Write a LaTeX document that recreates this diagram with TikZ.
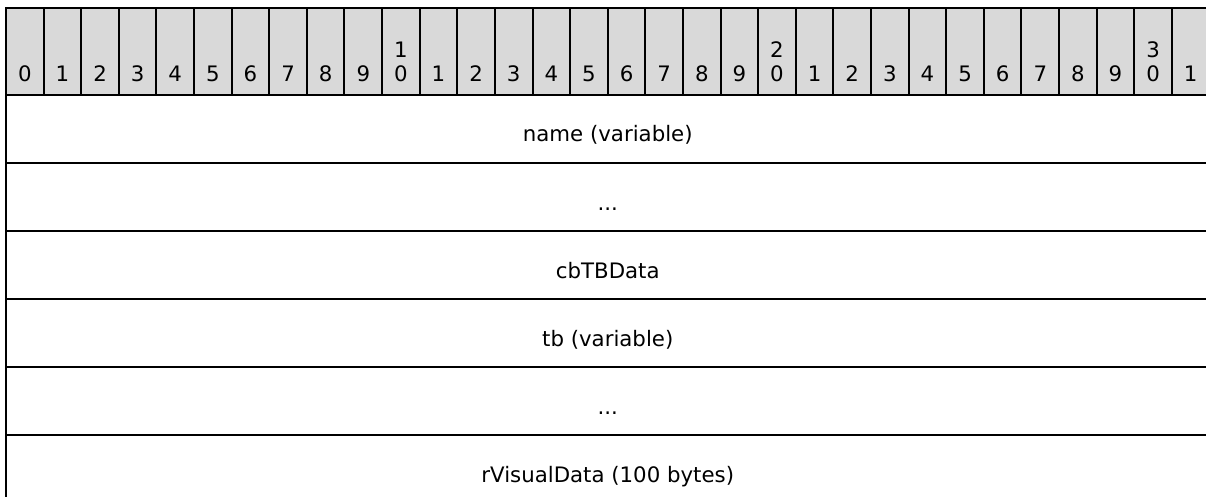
\documentclass[tikz,border=0pt]{standalone}
\usepackage{fontspec}
\setmainfont{DejaVu Sans}
\definecolor{hdrgray}{HTML}{D9D9D9}
\begin{document}
\begin{tikzpicture}[x=1pt,y=-1pt,
  hcell/.style={draw=black,line width=2pt,fill=hdrgray,minimum width=37.61pt,minimum height=87pt,inner sep=0pt,outer sep=0pt},
  rcell/.style={draw=black,line width=2pt,minimum width=1203.5pt,minimum height=68pt,inner sep=0pt,outer sep=0pt},
  dig/.style={anchor=base,inner sep=0pt,font=\fontsize{21.3}{24}\selectfont},
  lbl/.style={anchor=base,inner sep=0pt,font=\fontsize{21.3}{24}\selectfont}]
\clip (0,0) rectangle (1206,497);
% header cells
\foreach \i in {0,...,31}{
  \node[hcell] (h\i) at ({6+37.61*\i+18.805},51.5) {};
}
% header labels
\foreach \i/\d in {0/0,1/1,2/2,3/3,4/4,5/5,6/6,7/7,8/8,9/9,11/1,12/2,13/3,14/4,15/5,16/6,17/7,18/8,19/9,21/1,22/2,23/3,24/4,25/5,26/6,27/7,28/8,29/9,31/1}{
  \node[dig] (d\i) at ({6+37.61*\i+18.805},82) {\d};
}
\foreach \i/\t in {10/1,20/2,30/3}{
  \node[dig] (dt\i) at ({6+37.61*\i+18.805},58) {\t};
  \node[dig] (d\i) at ({6+37.61*\i+18.805},82) {0};
}
% rows
\foreach \r in {0,...,5}{
  \node[rcell] (r\r) at (607.75,{95+68*\r+34}) {};
}
\node[lbl] (l0) at (607.75,142) {name (variable)};
\node[lbl] (l1) at (607.75,210) {...};
\node[lbl] (l2) at (607.75,278) {cbTBData};
\node[lbl] (l3) at (607.75,346) {tb (variable)};
\node[lbl] (l4) at (607.75,414) {...};
\node[lbl] (l5) at (607.75,482) {rVisualData (100 bytes)};
\end{tikzpicture}
\end{document}
